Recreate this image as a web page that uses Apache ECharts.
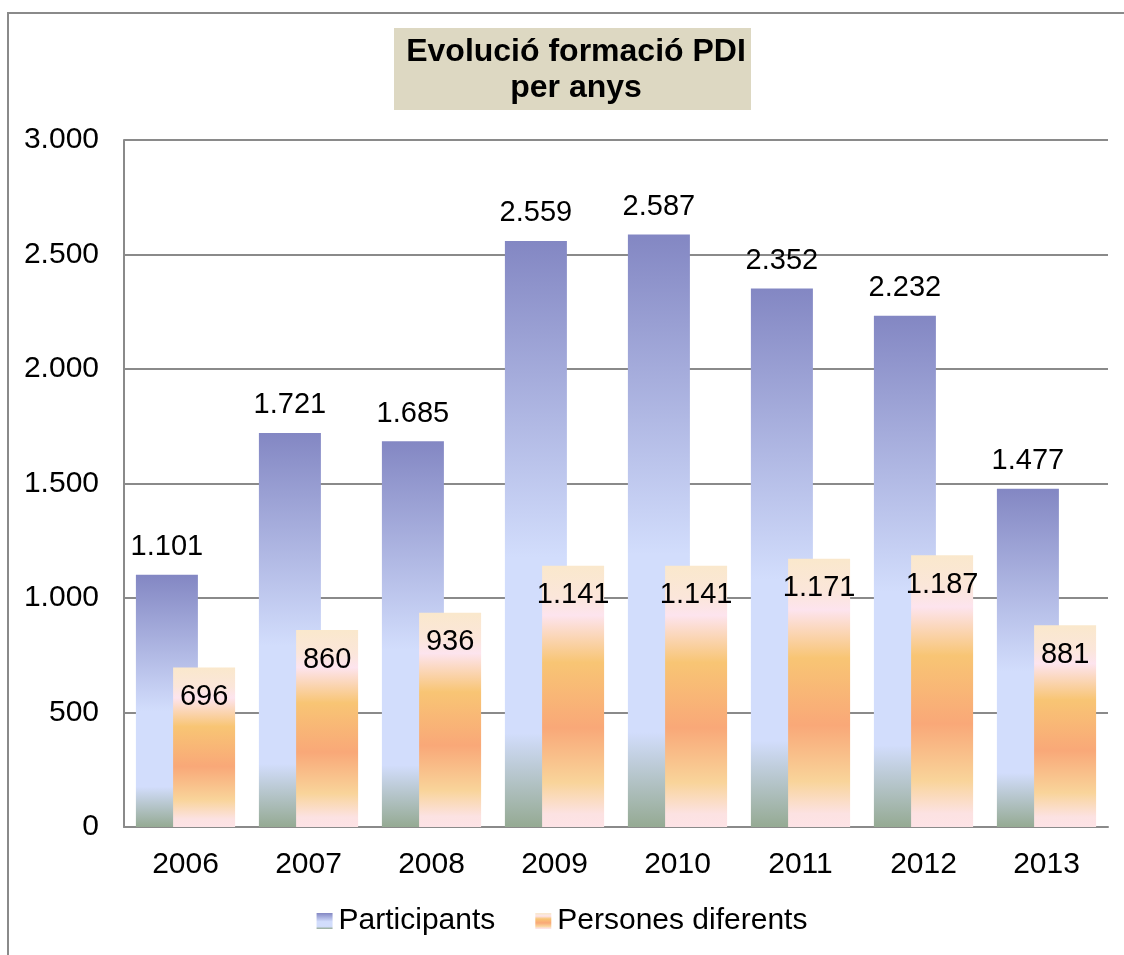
<!DOCTYPE html>
<html>
<head>
<meta charset="utf-8">
<script src="https://cdn.jsdelivr.net/npm/echarts@6/dist/echarts.min.js"></script>
<style>
html,body{margin:0;padding:0;background:#fff;}
#chart{width:1124px;height:955px;}
</style>
</head>
<body>
<div id="chart"></div>
<script>
const years = ['2006','2007','2008','2009','2010','2011','2012','2013'];
const participants = [1101, 1721, 1685, 2559, 2587, 2352, 2232, 1477];
const persones = [696, 860, 936, 1141, 1141, 1171, 1187, 881];
const seriesNames = ['Participants', 'Persones diferents'];
const titleText = 'Evolució formació PDI\nper anys';

const FONT = '"Liberation Sans", Arial, sans-serif';
function fmt(v) {
  return String(v).replace(/\B(?=(\d{3})+(?!\d))/g, '.');
}
const gradP = new echarts.graphic.LinearGradient(0, 0, 0, 1, [
  {offset: 0, color: '#8387C3'},
  {offset: 0.54, color: '#D2DDFC'},
  {offset: 0.84, color: '#D2DDFC'},
  {offset: 1, color: '#95AA93'}
]);
const gradQ = new echarts.graphic.LinearGradient(0, 0, 0, 1, [
  {offset: 0, color: '#FAE8CC'},
  {offset: 0.12, color: '#FBE6DA'},
  {offset: 0.19, color: '#FDE4EE'},
  {offset: 0.37, color: '#F8C574'},
  {offset: 0.62, color: '#F9A878'},
  {offset: 0.83, color: '#F9D49A'},
  {offset: 0.95, color: '#FCE2E2'},
  {offset: 1, color: '#FDE3E6'}
]);

const chart = echarts.init(document.getElementById('chart'), null, {renderer: 'canvas'});
chart.setOption({
  animation: false,
  backgroundColor: '#fff',
  textStyle: {fontFamily: FONT, color: '#000'},
  graphic: [
    {type: 'rect', z: -1, shape: {x: 8, y: 13, width: 1300, height: 1100},
     style: {fill: 'none', stroke: '#8a8a8a', lineWidth: 2}},
    {type: 'rect', z: 1, shape: {x: 394, y: 28, width: 357, height: 82},
     style: {fill: '#DDD8C2'}},
    {type: 'text', z: 2, x: 576, y: 34,
     style: {text: titleText, font: 'bold 32px ' + FONT, fill: '#000',
             align: 'center', verticalAlign: 'top', lineHeight: 36}}
  ],
  grid: {left: 124, right: 16, top: 140, bottom: 128, containLabel: false},
  legend: {
    data: seriesNames,
    bottom: 14,
    left: 'center',
    itemWidth: 16,
    itemHeight: 16,
    itemGap: 40,
    icon: 'rect',
    textStyle: {fontSize: 30, fontFamily: FONT, color: '#000', padding: [0, 0, 0, 1]}
  },
  xAxis: {
    type: 'category',
    data: years,
    axisLine: {lineStyle: {color: '#8a8a8a', width: 2}},
    axisTick: {show: false},
    axisLabel: {fontSize: 30, fontFamily: FONT, color: '#000', margin: 23}
  },
  yAxis: {
    type: 'value',
    min: 0,
    max: 3000,
    interval: 500,
    axisLine: {show: true, lineStyle: {color: '#8a8a8a', width: 2}},
    axisTick: {show: false},
    splitLine: {lineStyle: {color: '#8a8a8a', width: 2}},
    axisLabel: {fontSize: 30, fontFamily: FONT, color: '#000', margin: 25,
                formatter: v => fmt(v)}
  },
  series: [
    {
      name: seriesNames[0],
      type: 'bar',
      data: participants,
      barWidth: 62,
      barGap: '-40%',
      itemStyle: {color: gradP},
      label: {show: true, position: 'top', distance: 13, fontSize: 29,
              fontFamily: FONT, color: '#000', formatter: p => fmt(p.value)}
    },
    {
      name: seriesNames[1],
      type: 'bar',
      data: persones,
      barWidth: 62,
      barGap: '-40%',
      itemStyle: {color: gradQ},
      label: {show: true, position: 'insideTop', distance: 15, fontSize: 29,
              fontFamily: FONT, color: '#000', formatter: p => fmt(p.value)}
    }
  ]
});
</script>
</body>
</html>
